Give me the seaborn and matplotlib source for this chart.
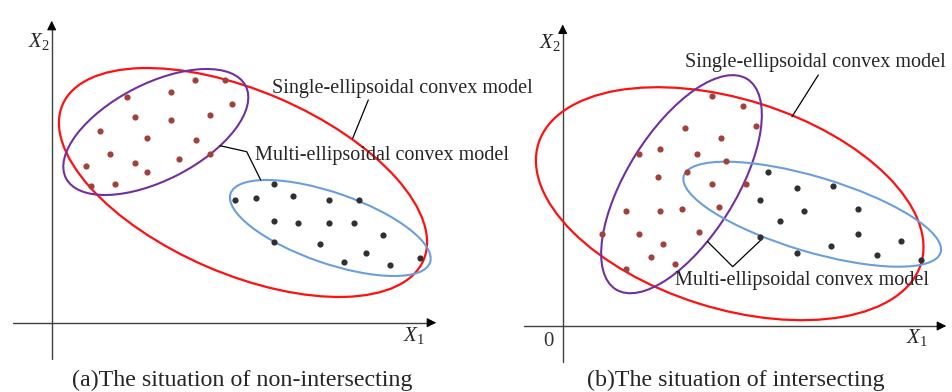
import numpy as np
import pandas as pd
import seaborn as sns
import matplotlib
matplotlib.use("Agg")
import matplotlib.pyplot as plt
from matplotlib.patches import Ellipse

# ---- data (coordinates relative to the X1/X2 origin of each panel) ----
# Panel (a): two separated clusters
a_red_x = [143, 173, 119, 75, 180, 83, 119, 158, 48, 95, 144, 58, 158, 127, 34, 83, 95, 39, 63]
a_red_y = [243, 243, 231, 226, 219, 206, 203, 208, 192, 185, 183, 169, 169, 164, 157, 160, 151, 137, 139]
a_blk_x = [222, 183, 204, 241, 277, 307, 222, 246, 277, 302, 331, 222, 268, 314, 292, 338, 368]
a_blk_y = [139, 123, 125, 127, 123, 123, 102, 100, 100, 100, 88, 81, 79, 70, 61, 58, 65]

# Panel (b): two overlapping clusters
b_red_x = [149, 180, 193, 122, 158, 76, 97, 134, 163, 95, 124, 149, 183, 63, 97, 119, 156, 39, 76, 100, 136, 88, 112, 63]
b_red_y = [230, 220, 200, 198, 188, 172, 177, 172, 165, 149, 154, 142, 142, 115, 115, 117, 119, 92, 92, 82, 94, 69, 62, 57]
b_blk_x = [205, 234, 270, 197, 241, 295, 217, 197, 295, 338, 268, 234, 314, 358]
b_blk_y = [154, 138, 140, 126, 115, 117, 105, 89, 92, 85, 80, 73, 71, 66]

# ellipses: centre x, centre y, full width, full height, angle (deg)
a_single = (191.3, 140.2, 393, 183, -23.3)
a_multi_1 = (104.1, 190.7, 202, 96.4, 27.2)
a_multi_2 = (278.6, 94.7, 211, 70.6, -19.1)
b_single = (167.0, 122.3, 401, 209, -17.5)
b_multi_1 = (118.8, 141.8, 248, 109, 58.0)
b_multi_2 = (249.5, 111.8, 268, 75, -16.6)

captions = ["(a)The situation of non-intersecting", "(b)The situation of intersecting"]
single_label = "Single-ellipsoidal convex model"
multi_label = "Multi-ellipsoidal convex model"

RED_DOT = "#A3403A"
BLK_DOT = "#303030"
RED = "#FF1010"
PURPLE = "#7030A0"
BLUE = "#6A9FDB"
AXIS = "#404040"

sns.set_theme(style="white")
plt.rcParams["font.family"] = ["Liberation Serif", "DejaVu Serif"]
plt.rcParams["mathtext.fontset"] = "custom"
plt.rcParams["mathtext.rm"] = "Liberation Serif"
plt.rcParams["mathtext.it"] = "Liberation Serif:italic"

fig = plt.figure(figsize=(9.52, 3.92), dpi=100)
ax_a = fig.add_axes([0, 0, 0.5, 1])
ax_b = fig.add_axes([0.5, 0, 0.5, 1])

# panel extents in data units (1 unit = 1 px), origin offsets
ax_a.set_xlim(-51.7, 476 - 51.7)
ax_a.set_ylim(322.7 - 392, 322.7)
ax_b.set_xlim(-86.7, 476 - 86.7)
ax_b.set_ylim(326 - 392, 326)


def draw_axes(ax, x0, x1, y0, y1):
    ax.plot([x0, x1 - 8], [0, 0], color=AXIS, lw=1.0, zorder=1)
    ax.plot([0, 0], [y0, y1 - 8], color=AXIS, lw=1.0, zorder=1)
    ax.annotate("", xy=(x1, 0), xytext=(x1 - 10, 0),
                arrowprops=dict(arrowstyle="-|>", color="black", lw=0.8, mutation_scale=14))
    ax.annotate("", xy=(0, y1), xytext=(0, y1 - 10),
                arrowprops=dict(arrowstyle="-|>", color="black", lw=0.8, mutation_scale=14))


def draw_ellipse(ax, e, color, lw):
    cx, cy, w, h, ang = e
    ax.add_patch(Ellipse((cx, cy), w, h, angle=ang, fill=False, edgecolor=color, lw=lw, zorder=2))


def draw_points(ax, xs, ys, color):
    df = pd.DataFrame({"x": xs, "y": ys})
    sns.scatterplot(data=df, x="x", y="y", ax=ax, color=color, s=20, linewidth=0, zorder=3)


# ---- panel (a) ----
draw_axes(ax_a, -38.7, 387.3, -36.3, 304.7)
draw_ellipse(ax_a, a_single, RED, 1.6)
draw_ellipse(ax_a, a_multi_1, PURPLE, 1.5)
draw_ellipse(ax_a, a_multi_2, BLUE, 1.5)
draw_points(ax_a, a_red_x, a_red_y, RED_DOT)
draw_points(ax_a, a_blk_x, a_blk_y, BLK_DOT)
ax_a.text(-12.7, 281, r"$X_{\mathrm{2}}$", fontsize=15, ha="center", va="center")
ax_a.text(362, -12.3, r"$X_{\mathrm{1}}$", fontsize=15, ha="center", va="center")
ax_a.text(220.3, 234.7, single_label, fontsize=14.5, ha="left", va="center")
ax_a.plot([316.6, 301], [222.7, 184.4], color="black", lw=0.9)
ax_a.text(203.3, 167.7, multi_label, fontsize=14.5, ha="left", va="center")
ax_a.plot([168.3, 195, 209], [177, 171, 142.7], color="black", lw=0.9)

# ---- panel (b) ----
draw_axes(ax_b, -38.4, 386.3, -35.7, 304.3)
draw_ellipse(ax_b, b_single, RED, 1.6)
draw_ellipse(ax_b, b_multi_1, PURPLE, 1.5)
draw_ellipse(ax_b, b_multi_2, BLUE, 1.5)
draw_points(ax_b, b_red_x, b_red_y, RED_DOT)
draw_points(ax_b, b_blk_x, b_blk_y, BLK_DOT)
ax_b.text(-13, 284, r"$X_{\mathrm{2}}$", fontsize=15, ha="center", va="center")
ax_b.text(354, -12, r"$X_{\mathrm{1}}$", fontsize=15, ha="center", va="center")
ax_b.text(-14.4, -15.7, "0", fontsize=15, ha="center", va="center", color="#333333")
ax_b.text(122.0, 263.7, single_label, fontsize=14.5, ha="left", va="center")
ax_b.plot([255.6, 229.3], [251, 209.3], color="black", lw=0.9)
ax_b.text(112.6, 45, multi_label, fontsize=14.5, ha="left", va="center")
ax_b.plot([145, 170, 199], [84.3, 59.3, 86.7], color="black", lw=0.9)

for ax in (ax_a, ax_b):
    ax.set_axis_off()
    ax.set_xlabel("")
    ax.set_ylabel("")

fig.text(242 / 952, 1 - 380 / 392, captions[0], fontsize=17.3, ha="center", va="center")
fig.text(736 / 952, 1 - 380 / 392, captions[1], fontsize=17.3, ha="center", va="center")

fig.savefig("out.png", dpi=100, facecolor="white")
